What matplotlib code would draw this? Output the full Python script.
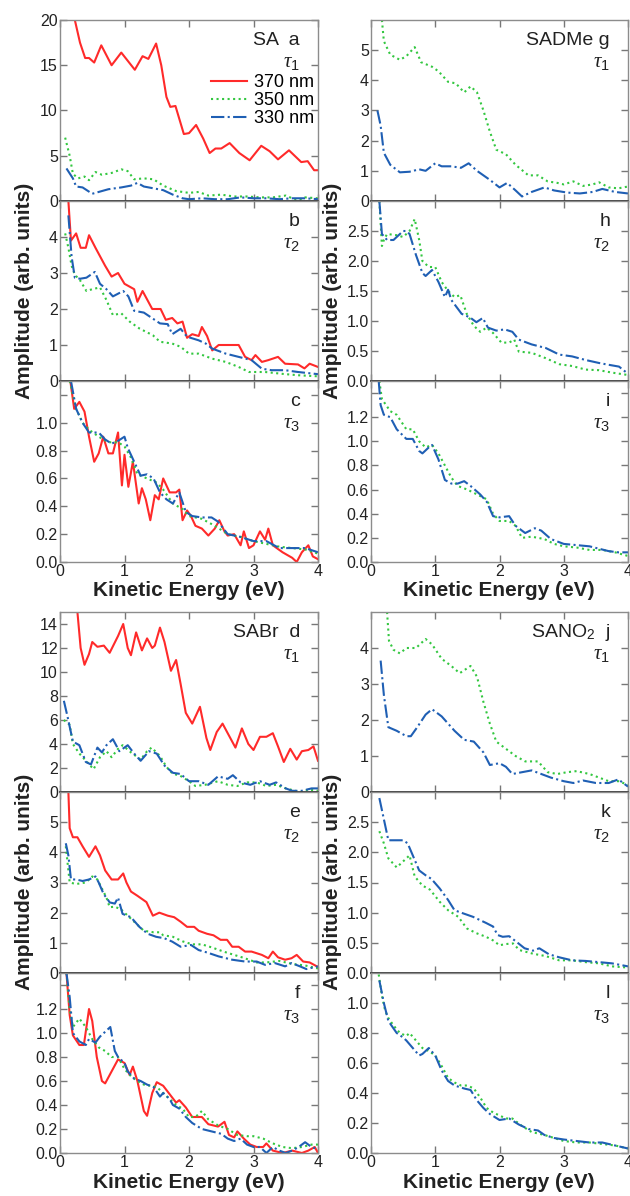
import numpy as np
import matplotlib.pyplot as plt

plt.rcParams['font.family'] = ['Liberation Sans', 'DejaVu Sans']
plt.rcParams['mathtext.fontset'] = 'custom'
plt.rcParams['mathtext.rm'] = 'Liberation Sans'
plt.rcParams['mathtext.it'] = 'Liberation Serif:italic'

# ---- SA -------------------------------------------------------------
a_x_370 = [0.23, 0.31, 0.39, 0.45, 0.53, 0.64, 0.80, 0.95, 1.16, 1.28, 1.37, 1.49, 1.57, 1.65, 1.71, 1.79,
           1.92, 2.00, 2.11, 2.22, 2.32, 2.41, 2.50, 2.63, 2.78, 2.94, 3.12, 3.25, 3.38, 3.55, 3.74, 3.84, 3.94, 4.0]
a_y_370 = [20.0, 17.5, 15.8, 15.8, 15.3, 17.2, 15.0, 16.4, 14.5, 16.0, 15.7, 17.4, 15.0, 11.5, 10.4, 10.5,
           7.4, 7.5, 8.4, 6.9, 5.3, 5.8, 5.8, 6.4, 5.3, 4.5, 6.1, 5.5, 4.6, 5.6, 4.3, 4.4, 3.4, 3.4]
a_x_350 = [0.08, 0.15, 0.2, 0.28, 0.38, 0.45, 0.55, 0.65, 0.8, 0.95, 1.05, 1.15, 1.3, 1.45, 1.6, 1.8, 2.0,
           2.15, 2.3, 2.5, 2.7, 2.9, 3.1, 3.3, 3.5, 3.6, 3.7, 3.8, 4.0]
a_y_350 = [7.0, 5.0, 3.0, 2.5, 2.7, 2.3, 3.2, 2.9, 3.1, 3.5, 3.3, 2.4, 2.5, 2.4, 1.7, 1.1, 0.9,
           1.0, 0.6, 0.7, 0.5, 0.5, 0.4, 0.4, 0.6, 0.3, 0.1, 0.4, 0.3]
a_x_330 = [0.1, 0.2, 0.25, 0.35, 0.5, 0.6, 0.75, 0.95, 1.1, 1.2, 1.3, 1.45, 1.6, 1.75, 1.9, 2.0, 2.2, 2.4,
           2.6, 2.8, 3.0, 3.2, 3.4, 3.6, 3.8, 4.0]
a_y_330 = [3.6, 2.5, 1.6, 1.5, 0.8, 1.0, 1.3, 1.5, 1.7, 2.0, 1.6, 1.4, 1.2, 0.7, 0.3, 0.2, 0.3, 0.2,
           0.2, 0.4, 0.3, 0.3, 0.2, 0.3, 0.3, 0.2]

b_x_370 = [0.13, 0.17, 0.25, 0.32, 0.4, 0.45, 0.55, 0.7, 0.8, 0.9, 1.0, 1.15, 1.2, 1.28, 1.43, 1.56, 1.64,
           1.74, 1.82, 1.9, 1.97, 2.05, 2.15, 2.2, 2.28, 2.36, 2.46, 2.67, 2.77, 2.87, 2.97, 3.03, 3.13,
           3.23, 3.38, 3.49, 3.69, 3.79, 3.87, 4.0]
b_y_370 = [5.0, 3.9, 4.1, 3.7, 3.7, 4.05, 3.7, 3.2, 2.9, 3.0, 2.7, 2.55, 2.2, 2.5, 2.0, 2.0, 1.7,
           1.75, 1.6, 1.65, 1.2, 1.3, 1.25, 1.5, 1.25, 0.85, 1.0, 1.0, 1.0, 0.67, 0.58, 0.72, 0.53,
           0.58, 0.67, 0.48, 0.46, 0.35, 0.48, 0.39]
b_x_350 = [0.08, 0.13, 0.18, 0.23, 0.31, 0.41, 0.5, 0.62, 0.72, 0.82, 0.95, 1.08, 1.23, 1.44, 1.55, 1.74,
           1.87, 2.0, 2.15, 2.36, 2.57, 2.77, 2.93, 3.18, 3.44, 3.69, 4.0]
b_y_350 = [4.1, 3.7, 3.2, 2.95, 2.8, 2.5, 2.55, 2.6, 2.25, 1.83, 1.88, 1.65, 1.46, 1.27, 1.09, 1.04,
           0.95, 0.76, 0.76, 0.62, 0.53, 0.39, 0.25, 0.25, 0.2, 0.16, 0.13]
b_x_330 = [0.13, 0.18, 0.23, 0.31, 0.41, 0.54, 0.62, 0.72, 0.82, 0.98, 1.06, 1.15, 1.3, 1.55, 1.67, 1.74,
           1.87, 1.97, 2.15, 2.26, 2.36, 2.57, 2.77, 2.97, 3.13, 3.28, 3.49, 3.69, 4.0]
b_y_330 = [4.6, 3.45, 2.87, 2.84, 2.87, 3.03, 2.7, 2.55, 2.35, 2.5, 2.35, 1.95, 1.9, 1.6, 1.58, 1.3,
           1.45, 1.23, 1.13, 1.04, 0.9, 0.76, 0.67, 0.58, 0.34, 0.3, 0.3, 0.25, 0.19]

c_x_370 = [0.16, 0.22, 0.3, 0.38, 0.45, 0.53, 0.6, 0.67, 0.75, 0.82, 0.9, 0.96, 1.0, 1.06, 1.13, 1.22,
           1.27, 1.33, 1.4, 1.47, 1.53, 1.6, 1.7, 1.8, 1.85, 1.9, 1.97, 2.03, 2.1, 2.2, 2.3, 2.4, 2.47,
           2.55, 2.6, 2.7, 2.8, 2.85, 2.93, 3.0, 3.1, 3.18, 3.23, 3.3, 3.45, 3.6, 3.67, 3.75, 3.85,
           3.92, 4.0]
c_y_370 = [1.3, 1.1, 1.15, 1.08, 0.9, 0.72, 0.78, 0.9, 0.78, 0.78, 0.93, 0.55, 0.77, 0.54, 0.72, 0.42,
           0.53, 0.45, 0.3, 0.48, 0.45, 0.6, 0.5, 0.5, 0.52, 0.3, 0.37, 0.33, 0.26, 0.24, 0.19, 0.24, 0.3,
           0.22, 0.19, 0.2, 0.12, 0.22, 0.1, 0.12, 0.22, 0.16, 0.24, 0.12, 0.07, 0.03, 0.0, 0.07, 0.12,
           0.04, 0.02]
c_x_350 = [0.15, 0.25, 0.35, 0.45, 0.6, 0.75, 0.9, 1.0, 1.1, 1.2, 1.35, 1.5, 1.6, 1.75, 1.9, 2.0, 2.2,
           2.4, 2.6, 2.8, 3.0, 3.2, 3.4, 3.6, 3.8, 4.0]
c_y_350 = [1.3, 1.1, 1.0, 0.95, 0.9, 0.86, 0.86, 0.83, 0.75, 0.63, 0.6, 0.57, 0.52, 0.42, 0.38, 0.33, 0.31,
           0.26, 0.2, 0.18, 0.15, 0.13, 0.11, 0.1, 0.09, 0.06]
c_x_330 = [0.17, 0.25, 0.35, 0.45, 0.6, 0.7, 0.8, 0.9, 1.0, 1.05, 1.15, 1.25, 1.35, 1.45, 1.55, 1.65,
           1.75, 1.85, 1.95, 2.05, 2.2, 2.35, 2.45, 2.6, 2.8, 3.0, 3.2, 3.4, 3.6, 3.8, 4.0]
c_y_330 = [1.3, 1.1, 1.0, 0.93, 0.93, 0.88, 0.85, 0.87, 0.9, 0.82, 0.72, 0.62, 0.63, 0.6, 0.5, 0.45,
           0.42, 0.5, 0.36, 0.33, 0.32, 0.32, 0.29, 0.2, 0.18, 0.15, 0.15, 0.1, 0.1, 0.1, 0.07]

# ---- SABr -----------------------------------------------------------
d_x_370 = [0.27, 0.32, 0.38, 0.45, 0.5, 0.58, 0.68, 0.77, 0.9, 0.98, 1.05, 1.1, 1.18, 1.27, 1.35, 1.43,
           1.47, 1.55, 1.62, 1.72, 1.8, 1.87, 1.95, 2.05, 2.17, 2.27, 2.33, 2.43, 2.52, 2.63, 2.72,
           2.82, 2.92, 3.0, 3.1, 3.2, 3.3, 3.38, 3.47, 3.57, 3.67, 3.75, 3.85, 3.93, 4.0]
d_y_370 = [15.0, 12.0, 10.6, 11.5, 12.5, 12.1, 12.2, 11.6, 13.0, 14.0, 12.0, 11.4, 13.3, 11.8, 12.8, 12.0,
           12.2, 13.7, 12.5, 10.1, 11.0, 9.0, 6.6, 5.7, 7.1, 4.5, 3.5, 5.0, 5.7, 4.6, 3.7,
           5.3, 4.0, 3.5, 4.6, 4.6, 4.9, 3.8, 2.5, 3.6, 2.7, 3.4, 3.5, 3.8, 2.6]
d_x_350 = [0.06, 0.15, 0.2, 0.3, 0.42, 0.52, 0.62, 0.72, 0.8, 0.9, 0.97, 1.1, 1.25, 1.35, 1.42, 1.55,
           1.65, 1.75, 1.85, 2.0, 2.1, 2.25, 2.45, 2.6, 2.75, 2.9, 3.05, 3.2, 3.35, 3.5, 3.65, 3.75,
           3.85, 4.0]
d_y_350 = [6.0, 5.6, 4.0, 3.2, 2.5, 1.9, 2.9, 3.4, 2.9, 3.6, 3.9, 3.3, 2.7, 3.4, 3.7, 3.0,
           2.1, 1.5, 1.4, 0.9, 0.5, 0.6, 0.9, 0.6, 0.5, 0.8, 0.8, 0.5, 0.6, 0.3, 0.1, 0.0,
           0.2, 0.1]
d_x_330 = [0.06, 0.12, 0.2, 0.3, 0.4, 0.48, 0.58, 0.65, 0.72, 0.82, 0.92, 1.05, 1.15, 1.25, 1.38, 1.5,
           1.62, 1.75, 1.87, 2.0, 2.15, 2.3, 2.45, 2.6, 2.68, 2.8, 2.95, 3.1, 3.25, 3.35, 3.5, 3.6,
           3.75, 3.9, 4.0]
d_y_330 = [7.6, 6.2, 4.2, 3.9, 2.5, 2.3, 3.7, 3.3, 3.9, 4.4, 3.4, 3.9, 3.2, 2.6, 3.4, 3.2,
           2.2, 1.6, 1.5, 0.9, 0.9, 0.6, 1.3, 1.1, 1.4, 0.8, 0.6, 0.9, 0.6, 0.8, 0.3, 0.1,
           0.1, 0.3, 0.3]

e_x_370 = [0.13, 0.15, 0.2, 0.27, 0.35, 0.45, 0.55, 0.62, 0.7, 0.8, 0.9, 0.98, 1.03, 1.1, 1.2, 1.34,
           1.44, 1.54, 1.67, 1.77, 1.87, 1.97, 2.08, 2.15, 2.28, 2.38, 2.49, 2.59, 2.67, 2.77, 2.87,
           2.97, 3.13, 3.23, 3.3, 3.38, 3.49, 3.59, 3.67, 3.77, 3.87, 4.0]
e_y_370 = [6.0, 4.8, 4.5, 4.5, 4.2, 3.85, 4.2, 3.9, 3.4, 3.1, 3.1, 3.3, 3.0, 2.7, 2.56, 2.35,
           1.9, 2.0, 1.9, 1.85, 1.7, 1.53, 1.53, 1.4, 1.3, 1.25, 1.1, 1.1, 0.87, 0.87, 0.71,
           0.71, 0.6, 0.49, 0.71, 0.52, 0.44, 0.49, 0.6, 0.38, 0.35, 0.2]
e_x_350 = [0.09, 0.15, 0.25, 0.4, 0.5, 0.58, 0.65, 0.72, 0.77, 0.85, 0.95, 1.05, 1.2, 1.3, 1.45, 1.55,
           1.6, 1.75, 1.9, 2.05, 2.2, 2.35, 2.55, 2.7, 2.85, 3.05, 3.2, 3.4, 3.6, 3.8, 4.0]
e_y_350 = [4.2, 3.0, 2.95, 3.0, 3.2, 3.1, 2.8, 2.5, 2.18, 2.2, 2.1, 1.9, 1.6, 1.4, 1.35, 1.35,
           1.25, 1.2, 1.05, 0.95, 0.95, 0.85, 0.7, 0.6, 0.5, 0.35, 0.35, 0.4, 0.3, 0.25, 0.15]
e_x_330 = [0.09, 0.13, 0.17, 0.25, 0.35, 0.45, 0.55, 0.6, 0.68, 0.72, 0.77, 0.85, 0.9, 0.97, 1.1, 1.23,
           1.36, 1.49, 1.62, 1.74, 1.87, 2.03, 2.15, 2.28, 2.46, 2.67, 2.87, 3.05, 3.18, 3.33, 3.49,
           3.59, 3.72, 3.82, 4.0]
e_y_330 = [4.3, 3.9, 3.1, 3.1, 3.05, 3.1, 3.2, 3.0, 2.6, 2.5, 2.34, 2.3, 2.5, 1.96, 1.85, 1.53,
           1.3, 1.2, 1.15, 1.04, 0.87, 0.93, 0.76, 0.68, 0.55, 0.44, 0.38, 0.38, 0.27, 0.33, 0.22,
           0.33, 0.22, 0.13, 0.22]

f_x_370 = [0.1, 0.15, 0.2, 0.3, 0.37, 0.45, 0.5, 0.57, 0.65, 0.7, 0.8, 0.9, 1.0, 1.08, 1.13, 1.2, 1.3,
           1.35, 1.43, 1.5, 1.6, 1.7, 1.8, 1.85, 1.95, 2.05, 2.2, 2.3, 2.45, 2.55, 2.62, 2.7, 2.75,
           2.85, 2.95, 3.05, 3.15, 3.2, 3.3, 3.45, 3.6, 3.75, 3.85, 3.95, 4.0]
f_y_370 = [1.5, 1.15, 0.98, 0.9, 0.9, 1.2, 1.1, 0.8, 0.6, 0.58, 0.68, 0.78, 0.75, 0.65, 0.72, 0.6, 0.35,
           0.31, 0.5, 0.59, 0.56, 0.49, 0.42, 0.44, 0.38, 0.3, 0.3, 0.24, 0.22, 0.26, 0.15, 0.13, 0.18,
           0.12, 0.07, 0.05, 0.05, 0.08, 0.02, 0.0, 0.02, 0.0, 0.02, 0.05, 0.0]
f_x_350 = [0.1, 0.15, 0.2, 0.3, 0.4, 0.5, 0.6, 0.7, 0.8, 0.9, 1.0, 1.1, 1.2, 1.3, 1.4, 1.5, 1.6, 1.7,
           1.8, 1.9, 2.0, 2.1, 2.2, 2.3, 2.45, 2.6, 2.75, 2.9, 3.0, 3.15, 3.3, 3.45, 3.6, 3.75, 3.9, 4.0]
f_y_350 = [1.5, 1.2, 1.05, 1.12, 1.05, 0.95, 0.88, 0.85, 0.8, 0.8, 0.7, 0.64, 0.6, 0.57, 0.56, 0.55,
           0.5, 0.45, 0.4, 0.37, 0.3, 0.3, 0.35, 0.28, 0.23, 0.2, 0.15, 0.14, 0.14, 0.12, 0.08, 0.05,
           0.04, 0.05, 0.07, 0.07]
f_x_330 = [0.1, 0.15, 0.2, 0.3, 0.4, 0.45, 0.55, 0.62, 0.72, 0.78, 0.85, 0.9, 1.0, 1.05, 1.15, 1.25,
           1.35, 1.45, 1.55, 1.6, 1.7, 1.75, 1.85, 1.95, 2.05, 2.2, 2.35, 2.5, 2.6, 2.7, 2.8, 2.9,
           3.0, 3.1, 3.2, 3.3, 3.4, 3.5, 3.6, 3.7, 3.8, 3.9, 4.0]
f_y_330 = [1.5, 1.3, 1.0, 0.93, 0.9, 0.95, 0.92, 0.97, 1.02, 1.05, 0.85, 0.8, 0.75, 0.68, 0.62, 0.6,
           0.57, 0.55, 0.47, 0.5, 0.45, 0.4, 0.37, 0.3, 0.25, 0.2, 0.18, 0.16, 0.12, 0.1, 0.12, 0.07,
           0.05, 0.05, 0.0, 0.05, 0.02, 0.0, 0.02, 0.05, 0.09, 0.05, 0.03]

# ---- SADMe ----------------------------------------------------------
g_x_350 = [0.17, 0.2, 0.3, 0.45, 0.55, 0.68, 0.78, 0.95, 1.05, 1.2, 1.32, 1.45, 1.55, 1.65, 1.75, 1.85,
           1.95, 2.1, 2.25, 2.45, 2.6, 2.75, 2.9, 3.0, 3.15, 3.3, 3.45, 3.55, 3.7, 3.85, 4.0]
g_y_350 = [6.0, 5.3, 4.85, 4.68, 4.8, 5.1, 4.6, 4.45, 4.3, 3.95, 3.9, 3.6, 3.8, 3.6, 3.0, 2.3,
           1.7, 1.55, 1.2, 0.85, 0.85, 0.65, 0.6, 0.55, 0.65, 0.5, 0.55, 0.62, 0.45, 0.42, 0.48]
g_x_330 = [0.1, 0.15, 0.2, 0.3, 0.45, 0.6, 0.75, 0.85, 1.0, 1.1, 1.25, 1.4, 1.52, 1.65, 1.85, 2.0,
           2.12, 2.25, 2.35, 2.5, 2.7, 2.85, 3.05, 3.25, 3.45, 3.6, 3.8, 4.0]
g_y_330 = [3.0, 2.5, 1.6, 1.2, 0.95, 0.97, 1.05, 1.0, 1.25, 1.15, 1.15, 1.1, 1.25, 1.0, 0.7, 0.45,
           0.6, 0.35, 0.15, 0.3, 0.45, 0.35, 0.28, 0.25, 0.3, 0.4, 0.3, 0.25]

h_x_350 = [0.13, 0.17, 0.2, 0.25, 0.4, 0.5, 0.6, 0.68, 0.75, 0.8, 0.9, 1.0, 1.1, 1.2, 1.3, 1.39, 1.49,
           1.6, 1.7, 1.8, 1.9, 2.03, 2.15, 2.23, 2.3, 2.5, 2.72, 2.93, 3.13, 3.34, 3.55, 3.75, 4.0]
h_y_350 = [3.0, 2.25, 2.35, 2.45, 2.43, 2.4, 2.5, 2.7, 2.35, 2.0, 1.9, 1.9, 1.65, 1.5, 1.4, 1.43, 1.12,
           0.92, 0.82, 0.89, 0.8, 0.64, 0.64, 0.69, 0.49, 0.47, 0.38, 0.28, 0.25, 0.19, 0.18, 0.14, 0.1]
h_x_330 = [0.13, 0.17, 0.25, 0.35, 0.5, 0.55, 0.6, 0.7, 0.8, 0.85, 0.95, 1.05, 1.15, 1.2, 1.25, 1.41,
           1.54, 1.64, 1.74, 1.82, 1.95, 2.08, 2.2, 2.3, 2.5, 2.72, 2.93, 3.13, 3.34, 3.55, 3.7,
           3.86, 4.0]
h_y_330 = [3.0, 2.45, 2.35, 2.35, 2.5, 2.5, 2.45, 2.1, 1.8, 1.75, 1.85, 1.65, 1.4, 1.52, 1.35, 1.12,
           1.06, 0.98, 1.05, 0.89, 0.84, 0.86, 0.82, 0.69, 0.61, 0.55, 0.44, 0.41, 0.35, 0.3, 0.27,
           0.24, 0.12]

i_x_350 = [0.13, 0.17, 0.3, 0.4, 0.55, 0.65, 0.75, 0.85, 0.95, 1.05, 1.15, 1.25, 1.35, 1.5, 1.65, 1.8,
           1.9, 2.0, 2.15, 2.25, 2.35, 2.5, 2.7, 2.85, 3.0, 3.2, 3.4, 3.6, 3.8, 4.0]
i_y_350 = [1.5, 1.35, 1.25, 1.22, 1.1, 1.1, 1.0, 0.95, 0.97, 0.9, 0.8, 0.7, 0.63, 0.6, 0.56, 0.52,
           0.4, 0.34, 0.34, 0.3, 0.2, 0.21, 0.19, 0.15, 0.13, 0.12, 0.1, 0.1, 0.08, 0.05]
i_x_330 = [0.12, 0.15, 0.2, 0.3, 0.4, 0.55, 0.65, 0.75, 0.8, 0.9, 0.95, 1.05, 1.15, 1.25, 1.35, 1.45,
           1.55, 1.7, 1.8, 1.9, 2.0, 2.15, 2.25, 2.4, 2.55, 2.65, 2.8, 3.0, 3.2, 3.4, 3.55, 3.7,
           3.85, 4.0]
i_y_330 = [1.5, 1.3, 1.22, 1.2, 1.1, 1.02, 1.02, 0.92, 0.9, 0.95, 0.97, 0.85, 0.68, 0.65, 0.65, 0.67,
           0.63, 0.56, 0.5, 0.38, 0.37, 0.38, 0.3, 0.24, 0.28, 0.26, 0.19, 0.15, 0.14, 0.13, 0.11, 0.09,
           0.08, 0.08]

# ---- SANO2 ----------------------------------------------------------
j_x_350 = [0.25, 0.28, 0.35, 0.45, 0.55, 0.7, 0.85, 0.95, 1.1, 1.25, 1.38, 1.55, 1.65, 1.75, 1.85, 1.95,
           2.1, 2.25, 2.4, 2.6, 2.75, 2.9, 3.05, 3.2, 3.4, 3.55, 3.7, 3.85, 4.0]
j_y_350 = [5.0, 4.2, 3.95, 3.85, 4.0, 4.0, 4.25, 4.1, 3.7, 3.5, 3.3, 3.5, 3.2, 2.5, 1.9, 1.4,
           1.2, 1.0, 0.85, 0.85, 0.55, 0.5, 0.55, 0.58, 0.5, 0.4, 0.3, 0.3, 0.2]
j_x_330 = [0.15, 0.2, 0.27, 0.4, 0.55, 0.62, 0.72, 0.85, 0.95, 1.1, 1.3, 1.45, 1.6, 1.75, 1.85, 2.0,
           2.1, 2.2, 2.35, 2.5, 2.65, 2.8, 3.0, 3.15, 3.3, 3.5, 3.7, 3.85, 4.0]
j_y_330 = [3.65, 2.7, 1.8, 1.7, 1.55, 1.55, 1.8, 2.15, 2.3, 2.1, 1.7, 1.45, 1.4, 1.1, 0.75, 0.8,
           0.7, 0.5, 0.55, 0.6, 0.5, 0.4, 0.3, 0.25, 0.32, 0.25, 0.25, 0.35, 0.15]

k_x_350 = [0.13, 0.2, 0.27, 0.4, 0.5, 0.6, 0.68, 0.8, 0.92, 1.07, 1.2, 1.36, 1.49, 1.64, 1.79, 1.9,
           2.0, 2.1, 2.21, 2.31, 2.52, 2.72, 2.93, 3.13, 3.34, 3.55, 3.75, 4.0]
k_y_350 = [2.35, 2.15, 1.9, 1.75, 1.85, 1.95, 1.6, 1.45, 1.38, 1.18, 1.04, 0.93, 0.74, 0.66, 0.6, 0.54,
           0.46, 0.48, 0.49, 0.38, 0.32, 0.28, 0.21, 0.21, 0.18, 0.16, 0.11, 0.09]
k_x_330 = [0.13, 0.2, 0.27, 0.5, 0.57, 0.65, 0.75, 0.85, 0.94, 1.07, 1.2, 1.3, 1.43, 1.59, 1.69, 1.79,
           1.9, 1.97, 2.05, 2.15, 2.26, 2.39, 2.52, 2.62, 2.77, 2.93, 3.13, 3.34, 3.55, 3.75, 4.0]
k_y_330 = [2.9, 2.55, 2.2, 2.2, 2.15, 1.95, 1.7, 1.62, 1.56, 1.4, 1.21, 1.04, 0.99, 0.93, 0.88, 0.83,
           0.77, 0.63, 0.6, 0.61, 0.52, 0.41, 0.37, 0.41, 0.31, 0.26, 0.21, 0.2, 0.18, 0.16, 0.11]

l_x_350 = [0.12, 0.17, 0.22, 0.27, 0.35, 0.45, 0.55, 0.6, 0.7, 0.8, 0.9, 1.0, 1.1, 1.2, 1.3, 1.4, 1.5,
           1.6, 1.7, 1.8, 1.9, 2.0, 2.1, 2.2, 2.35, 2.5, 2.7, 2.85, 3.0, 3.2, 3.4, 3.6, 3.8, 4.0]
l_y_350 = [1.19, 1.05, 0.95, 0.9, 0.85, 0.8, 0.78, 0.8, 0.75, 0.7, 0.68, 0.65, 0.58, 0.5, 0.47, 0.45,
           0.45, 0.43, 0.37, 0.3, 0.27, 0.25, 0.23, 0.23, 0.18, 0.14, 0.12, 0.1, 0.08, 0.07, 0.07, 0.06,
           0.05, 0.03]
l_x_330 = [0.13, 0.2, 0.27, 0.4, 0.5, 0.55, 0.65, 0.75, 0.8, 0.9, 1.0, 1.1, 1.2, 1.3, 1.45, 1.55, 1.65,
           1.75, 1.85, 2.0, 2.15, 2.3, 2.45, 2.6, 2.7, 2.85, 3.0, 3.2, 3.4, 3.6, 3.8, 4.0]
l_y_330 = [1.15, 1.0, 0.88, 0.8, 0.77, 0.75, 0.7, 0.65, 0.66, 0.7, 0.65, 0.55, 0.48, 0.45, 0.43, 0.42,
           0.35, 0.3, 0.26, 0.22, 0.23, 0.19, 0.16, 0.15, 0.12, 0.1, 0.09, 0.08, 0.07, 0.07, 0.05, 0.03]

wavelengths = ['370 nm', '350 nm', '330 nm']
colors = {'370 nm': '#ff2a2a', '350 nm': '#33c740', '330 nm': '#1f5fb4'}
styles = {'370 nm': '-', '350 nm': ':', '330 nm': '-.'}

# panel: (series, ylim, labelled yticks, unlabelled ticks, name, letter, tau)
panels = {
    'a': ({'370 nm': (a_x_370, a_y_370), '350 nm': (a_x_350, a_y_350), '330 nm': (a_x_330, a_y_330)},
          20, [0, 5, 10, 15, 20], [], 'SA  ', 'a', 1),
    'b': ({'370 nm': (b_x_370, b_y_370), '350 nm': (b_x_350, b_y_350), '330 nm': (b_x_330, b_y_330)},
          5, [0, 1, 2, 3, 4], [], '', 'b', 2),
    'c': ({'370 nm': (c_x_370, c_y_370), '350 nm': (c_x_350, c_y_350), '330 nm': (c_x_330, c_y_330)},
          1.3, [0, 0.2, 0.4, 0.6, 0.8, 1.0], [1.2], '', 'c', 3),
    'd': ({'370 nm': (d_x_370, d_y_370), '350 nm': (d_x_350, d_y_350), '330 nm': (d_x_330, d_y_330)},
          15, [0, 2, 4, 6, 8, 10, 12, 14], [], 'SABr  ', 'd', 1),
    'e': ({'370 nm': (e_x_370, e_y_370), '350 nm': (e_x_350, e_y_350), '330 nm': (e_x_330, e_y_330)},
          6, [0, 1, 2, 3, 4, 5], [], '', 'e', 2),
    'f': ({'370 nm': (f_x_370, f_y_370), '350 nm': (f_x_350, f_y_350), '330 nm': (f_x_330, f_y_330)},
          1.5, [0, 0.2, 0.4, 0.6, 0.8, 1.0, 1.2], [1.4], '', 'f', 3),
    'g': ({'350 nm': (g_x_350, g_y_350), '330 nm': (g_x_330, g_y_330)},
          6, [0, 1, 2, 3, 4, 5], [], 'SADMe ', 'g', 1),
    'h': ({'350 nm': (h_x_350, h_y_350), '330 nm': (h_x_330, h_y_330)},
          3, [0, 0.5, 1.0, 1.5, 2.0, 2.5], [], '', 'h', 2),
    'i': ({'350 nm': (i_x_350, i_y_350), '330 nm': (i_x_330, i_y_330)},
          1.5, [0, 0.2, 0.4, 0.6, 0.8, 1.0, 1.2], [1.4], '', 'i', 3),
    'j': ({'350 nm': (j_x_350, j_y_350), '330 nm': (j_x_330, j_y_330)},
          5, [0, 1, 2, 3, 4], [], r'SANO$_2$  ', 'j', 1),
    'k': ({'350 nm': (k_x_350, k_y_350), '330 nm': (k_x_330, k_y_330)},
          3, [0, 0.5, 1.0, 1.5, 2.0, 2.5], [], '', 'k', 2),
    'l': ({'350 nm': (l_x_350, l_y_350), '330 nm': (l_x_330, l_y_330)},
          1.2, [0, 0.2, 0.4, 0.6, 0.8, 1.0], [], '', 'l', 3),
}

W, H = 630, 1196
fig = plt.figure(figsize=(W / 100, H / 100), dpi=100)

col_left = {0: 60, 1: 371}
col_right = {0: 318, 1: 628}
row_px = [(20, 201), (201, 381), (381, 562), (612, 792), (792, 973), (973, 1153)]
layout = [('a', 0, 0), ('b', 0, 1), ('c', 0, 2), ('d', 0, 3), ('e', 0, 4), ('f', 0, 5),
          ('g', 1, 0), ('h', 1, 1), ('i', 1, 2), ('j', 1, 3), ('k', 1, 4), ('l', 1, 5)]

spine_grey = '#8c8c8c'
for key, col, row in layout:
    series, ytop, yt, yt_extra, name, letter, tau = panels[key]
    t, b = row_px[row]
    x0, x1 = col_left[col], col_right[col]
    ax = fig.add_axes([x0 / W, 1 - b / H, (x1 - x0) / W, (b - t) / H])
    for wl in wavelengths:
        if wl in series:
            xs, ys = series[wl]
            ax.plot(xs, ys, color=colors[wl], ls=styles[wl], lw=1.5, label=wl)
    ax.set_xlim(0, 4)
    ax.set_ylim(0, ytop)
    ticks = yt + yt_extra
    ax.set_yticks(ticks)
    if isinstance(yt[1], float) or any(isinstance(v, float) for v in yt):
        labels = ['%.1f' % v for v in yt]
    else:
        labels = ['%d' % v for v in yt]
    ax.set_yticklabels(labels + [''] * len(yt_extra))
    ax.set_xticks([0, 1, 2, 3, 4])
    if row in (2, 5):
        ax.set_xticklabels(['0', '1', '2', '3', '4'])
    else:
        ax.set_xticklabels([])
    ax.tick_params(direction='in', top=True, right=True, length=5, width=1,
                   color='#777777', labelsize=11.5, labelcolor='#222222', pad=1.5)
    for s in ax.spines.values():
        s.set_color(spine_grey)
        s.set_linewidth(1.0)
    if row in (0, 1, 3, 4):
        ax.spines['bottom'].set_color('#303030')
        ax.spines['bottom'].set_linewidth(1.3)
        ax.spines['bottom'].set_zorder(5)
    ax.text(0.93, 0.885, name + letter, transform=ax.transAxes, ha='right', va='center',
            fontsize=14, color='#222222')
    ax.text(0.93, 0.765, r'$\tau_%d$' % tau, transform=ax.transAxes, ha='right', va='center',
            fontsize=15, color='#222222')
    if key == 'a':
        ax.legend(loc='upper right', bbox_to_anchor=(1.0, 0.72), frameon=False, fontsize=13,
                  handlelength=2.0, handletextpad=0.4, labelspacing=0.05, borderaxespad=0.2,
                  borderpad=0)

for cx, lx in [(189, 25), (499, 333)]:
    for yc, ky in [(291, 590), (882, 1183)]:
        fig.text(lx / W, 1 - yc / H, 'Amplitude (arb. units)', rotation=90, ha='center', va='center',
                 fontsize=15, fontweight='bold', color='#222222')
        fig.text(cx / W, 1 - ky / H, 'Kinetic Energy (eV)', ha='center', va='center',
                 fontsize=15, fontweight='bold', color='#222222')

fig.savefig('out.png', dpi=100)
